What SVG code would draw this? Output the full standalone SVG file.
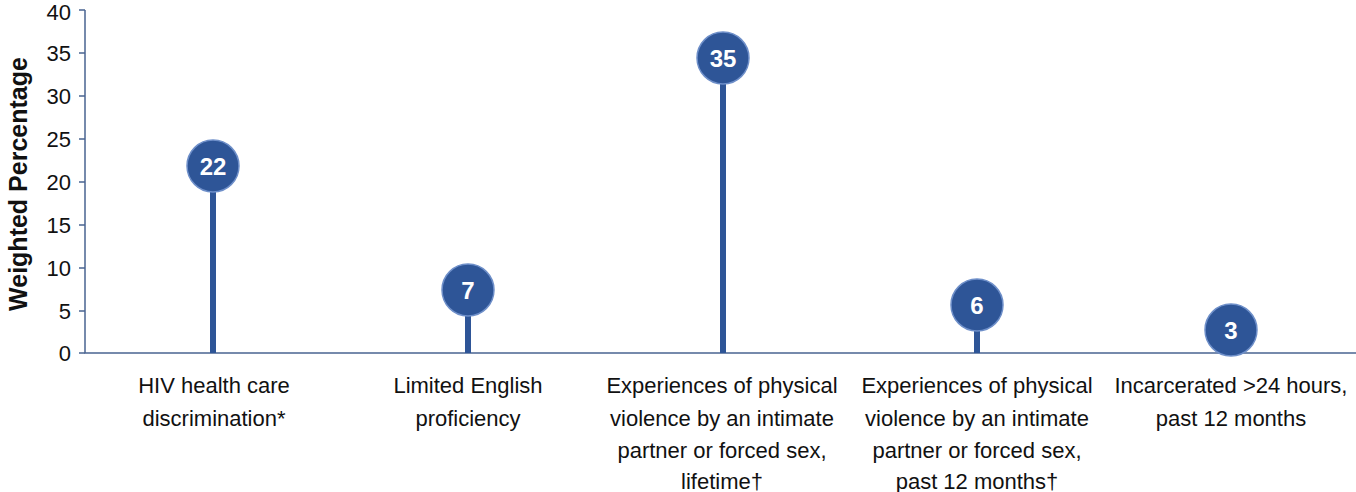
<svg xmlns="http://www.w3.org/2000/svg" width="1356" height="492" viewBox="0 0 1356 492">
<style>
.ax{stroke:#4A6491;stroke-width:1.5;fill:none}
.tick{font-family:"Liberation Sans",Arial,sans-serif;font-size:22px;fill:#111;text-anchor:end}
.cat{font-family:"Liberation Sans",Arial,sans-serif;font-size:22px;fill:#111;text-anchor:middle}
.stem{stroke:#2E5597;stroke-width:6}
.dot{fill:#2E5597;stroke:#6E8FC9;stroke-width:1.5}
.val{font-family:"Liberation Sans",Arial,sans-serif;font-size:24px;font-weight:bold;fill:#fff;text-anchor:middle}
</style>
<rect width="1356" height="492" fill="#fff"/>
<g id="axes">
<path class="ax" d="M85 10V353H1356"/>
<path class="ax" d="M79 10H85M79 53H85M79 96H85M79 139H85M79 182H85M79 225H85M79 268H85M79 311H85M79 353H85"/>
<text class="tick" x="71" y="20">40</text>
<text class="tick" x="71" y="61">35</text>
<text class="tick" x="71" y="104">30</text>
<text class="tick" x="71" y="147">25</text>
<text class="tick" x="71" y="190">20</text>
<text class="tick" x="71" y="233">15</text>
<text class="tick" x="71" y="276">10</text>
<text class="tick" x="71" y="319">5</text>
<text class="tick" x="71" y="361">0</text>
<text transform="translate(27 184) rotate(-90)" style="font-family:'Liberation Sans',Arial,sans-serif;font-size:25px;font-weight:bold;fill:#111;text-anchor:middle">Weighted Percentage</text>
</g>
<g id="connectors">
<line class="stem" x1="213" y1="166" x2="213" y2="353"/>
<line class="stem" x1="468" y1="290" x2="468" y2="353"/>
<line class="stem" x1="723" y1="58" x2="723" y2="353"/>
<line class="stem" x1="977" y1="305" x2="977" y2="353"/>
<line class="stem" x1="1231" y1="330" x2="1231" y2="353"/>
</g>
<g id="n1"><circle class="dot" cx="213" cy="166" r="26"/><text class="val" x="213" y="175">22</text>
<text class="cat" x="214" y="393">HIV health care</text><text class="cat" x="214" y="426">discrimination*</text></g>
<g id="n2"><circle class="dot" cx="468" cy="290" r="26"/><text class="val" x="468" y="299">7</text>
<text class="cat" x="468" y="393">Limited English</text><text class="cat" x="468" y="426">proficiency</text></g>
<g id="n3"><circle class="dot" cx="723" cy="58" r="26"/><text class="val" x="723" y="67">35</text>
<text class="cat" x="722" y="393">Experiences of physical</text><text class="cat" x="722" y="426">violence by an intimate</text><text class="cat" x="722" y="458">partner or forced sex,</text><text class="cat" x="722" y="489">lifetime†</text></g>
<g id="n4"><circle class="dot" cx="977" cy="305" r="26"/><text class="val" x="977" y="314">6</text>
<text class="cat" x="977" y="393">Experiences of physical</text><text class="cat" x="977" y="426">violence by an intimate</text><text class="cat" x="977" y="458">partner or forced sex,</text><text class="cat" x="977" y="489">past 12 months†</text></g>
<g id="n5"><circle class="dot" cx="1231" cy="330" r="26"/><text class="val" x="1231" y="339">3</text>
<text class="cat" x="1231" y="393">Incarcerated &gt;24 hours,</text><text class="cat" x="1231" y="426">past 12 months</text></g>
</svg>
